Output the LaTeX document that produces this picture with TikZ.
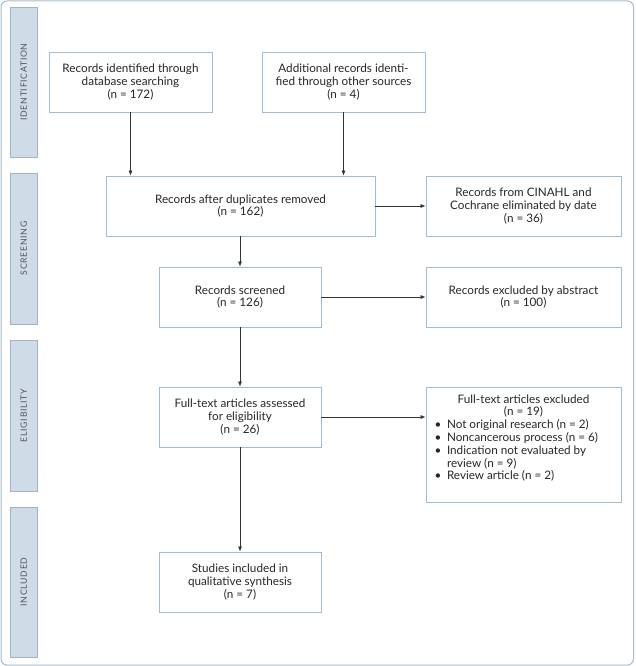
\documentclass[tikz,border=0pt]{standalone}
\usepackage{fontspec}
\setmainfont{Lato}
\newfontfamily\phasefont{Lato}[LetterSpace=8]
\usepackage{enumitem}
\usetikzlibrary{arrows.meta, calc}

\definecolor{framecol}{RGB}{168,189,205}
\definecolor{barfill}{RGB}{207,220,231}
\definecolor{barline}{RGB}{158,181,200}
\definecolor{boxline}{RGB}{163,187,206}
\definecolor{labelgray}{RGB}{78,84,90}

\begin{document}
\begin{tikzpicture}[x=1pt, y=-1pt]
  \useasboundingbox (0,0) rectangle (635,666);

  % --- Styles ---
  \tikzset{
    phase bar/.style={draw=barline, fill=barfill, line width=0.8pt, rotate=90,
      minimum height=26.3pt, inner sep=0pt, text=labelgray,
      font=\phasefont\fontsize{8.7}{10}\selectfont},
    record box/.style={draw=boxline, line width=0.8pt, align=center, inner sep=0pt,
      minimum height=60pt, text=black!85, font=\fontsize{11.7}{12.8}\selectfont},
    flow arrow/.style={-{Latex[length=5pt,width=4pt]}, line width=0.7pt, black!80}
  }

  % Centres of the boxes (in pixels of the original figure)
  \coordinate (C1) at (130.5, 82);
  \coordinate (C2) at (343.5, 82);
  \coordinate (C3) at (240.5, 206);
  \coordinate (C4) at (523.5, 206);
  \coordinate (C5) at (240, 297);
  \coordinate (C6) at (523.5, 297);
  \coordinate (C7) at (240, 417);
  \coordinate (C8) at (523.5, 444.5);
  \coordinate (C9) at (240, 582);

  % --- Outer frame ---
  \draw[framecol, line width=1pt, rounded corners=6pt] (1,1) rectangle (633.5,665);

  % --- Phase bars on the left ---
  \node[phase bar, minimum width=150pt] (idbar) at (23.8, 82) {IDENTIFICATION};
  \node[phase bar, minimum width=151pt] (scbar) at (23.8, 248.5) {SCREENING};
  \node[phase bar, minimum width=151pt] (elbar) at (23.8, 415.5) {ELIGIBILITY};
  \node[phase bar, minimum width=150pt] (inbar) at (23.8, 582) {INCLUDED};

  % --- Record boxes ---
  \node[record box, minimum width=163pt] (b1) at (C1)
    {Records identified through\\database searching\\(n = 172)};
  \node[record box, minimum width=163pt] (b2) at (C2)
    {Additional records identi-\\fied through other sources\\(n = 4)};
  \node[record box, minimum width=269pt] (b3) at (C3)
    {Records after duplicates removed\\(n = 162)};
  \node[record box, minimum width=195pt] (b4) at (C4)
    {Records from CINAHL and\\Cochrane eliminated by date\\(n = 36)};
  \node[record box, minimum width=162pt] (b5) at (C5)
    {Records screened\\(n = 126)};
  \node[record box, minimum width=195pt] (b6) at (C6)
    {Records excluded by abstract\\(n = 100)};
  \node[record box, minimum width=162pt] (b7) at (C7)
    {Full-text articles assessed\\for eligibility\\(n = 26)};
  \node[record box, minimum width=195pt, minimum height=115pt] (b8) at (C8)
    {\parbox[c][100pt][t]{182pt}{\centering Full-text articles excluded\\(n = 19)\par
      \raggedright
      \begin{itemize}[nosep, leftmargin=14.5pt, labelsep=5.5pt]
        \item Not original research (n = 2)
        \item Noncancerous process (n = 6)
        \item Indication not evaluated by\\review (n = 9)
        \item Review article (n = 2)
      \end{itemize}}};
  \node[record box, minimum width=162pt] (b9) at (C9)
    {Studies included in\\qualitative synthesis\\(n = 7)};

  % --- Arrows ---
  \draw[flow arrow] (b1.south) -- (b1.south |- b3.north);
  \draw[flow arrow] (b2.south) -- (b2.south |- b3.north);
  \draw[flow arrow] (b3.east) -- (b4.west);
  \draw[flow arrow] (b5.north |- b3.south) -- (b5.north);
  \draw[flow arrow] (b5.east) -- (b6.west);
  \draw[flow arrow] (b5.south) -- (b7.north);
  \draw[flow arrow] (b7.east) -- (b7.east -| b8.west);
  \draw[flow arrow] (b7.south) -- (b9.north);

\end{tikzpicture}
\end{document}
